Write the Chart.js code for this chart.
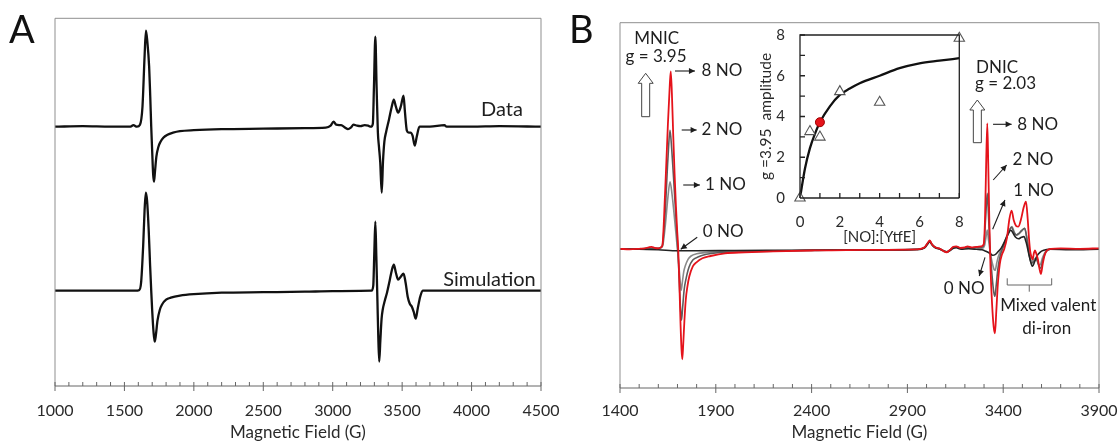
<!DOCTYPE html>
<html lang="en">
<head>
<meta charset="UTF-8" />
<title>EPR spectra</title>
<script src="https://cdn.jsdelivr.net/npm/chart.js@4.4.0/dist/chart.umd.min.js"></script>
<style>
  body { margin: 0; background: #fff; }
  .wrap { position: relative; width: 1119px; height: 441px; }
  canvas { position: absolute; }
</style>
</head>
<body>
<div class="wrap">
  <canvas id="chartA" width="560" height="441" style="left:0;top:0"></canvas>
  <canvas id="chartB" width="559" height="441" style="left:560px;top:0"></canvas>
  <canvas id="inset" width="239" height="241" style="left:740px;top:14px"></canvas>
</div>
<script>
// ---- panel A: [field (G), signal] ----
const aData = [[1000,0],[1200,0.5],[1400,0],[1540,0],[1565,1.5],[1590,0],[1612,2],[1630,20],[1645,70],[1655,96],[1665,85],[1678,60],[1686,30],[1693,0],[1700,-25],[1707,-48],[1713,-55],[1720,-45],[1730,-30],[1745,-20],[1760,-15],[1780,-11],[1810,-8],[1850,-6],[1900,-4.5],[2000,-3.5],[2200,-2.5],[2500,-2],[2800,-1.5],[2950,-1],[2985,1],[3006,5],[3025,2],[3060,1.5],[3090,-1],[3110,-2.5],[3130,-1],[3150,2],[3175,1],[3200,0.5],[3230,1.5],[3255,1],[3275,0],[3289,3],[3297,40],[3307,90],[3316,40],[3325,-5],[3333,-20],[3342,-35],[3353,-66],[3362,-35],[3372,-15],[3385,-5],[3405,7],[3425,20],[3440,27],[3455,20],[3471,14],[3490,20],[3510,31],[3520,15],[3534,-4],[3548,-6],[3560,-6],[3575,-9],[3591,-19],[3605,-10],[3625,0],[3700,0],[3805,1.5],[3820,0],[4000,0],[4200,0.5],[4500,0]];
const aSim = [[1000,0],[1580,0],[1605,0.5],[1620,8],[1635,45],[1645,80],[1654,98],[1663,90],[1675,60],[1685,25],[1693,0],[1700,-20],[1710,-42],[1718,-51],[1726,-45],[1738,-30],[1755,-19],[1770,-14],[1800,-9],[1834,-7],[1900,-5],[2000,-3.5],[2200,-2],[2500,-1.5],[2800,-1],[3000,-0.5],[3280,0],[3292,5],[3300,40],[3307,69],[3314,35],[3322,-10],[3328,-45],[3335,-71],[3343,-50],[3352,-28],[3360,-19],[3375,-10],[3391,-2],[3410,10],[3425,20],[3440,26],[3455,18],[3471,11],[3490,14],[3510,17],[3525,8],[3540,-6],[3555,-13],[3570,-16],[3583,-21],[3598,-28],[3612,-18],[3630,-6],[3648,0],[4500,0]];

// ---- panel B: [field (G), signal] for 8, 2, 1 and 0 NO ----
const b8NO = [[1400,0.5],[1450,0],[1500,0.5],[1530,1],[1550,2],[1565,2.5],[1580,1.5],[1600,1],[1615,2],[1622,5],[1635,55],[1650,125],[1660,165],[1665,178],[1671,155],[1678,113],[1685,75],[1692,43],[1698,20],[1704,0],[1710,-35],[1716,-75],[1721,-100],[1725,-110],[1730,-95],[1736,-72],[1743,-51],[1752,-37],[1762,-27],[1780,-17],[1799,-13],[1830,-9],[1873,-6.7],[1948,-4],[2050,-3],[2200,-2],[2400,-1.2],[2700,-0.5],[2950,0],[2990,2],[3005,6],[3017,9],[3028,5],[3045,2],[3070,0.5],[3090,-2],[3105,-3],[3120,-1],[3140,2.5],[3155,3],[3175,1.5],[3200,2],[3214,3],[3235,2],[3260,2.5],[3285,3],[3298,5],[3305,30],[3311,85],[3317,126],[3322,85],[3328,25],[3334,-20],[3342,-55],[3350,-77],[3357,-84],[3364,-62],[3372,-35],[3382,-15],[3394,-5],[3405,0],[3420,12],[3432,30],[3444,38.7],[3455,29],[3467,23.5],[3479,22.7],[3493,30],[3507,42],[3519,47.7],[3528,30],[3535,10],[3541,-2],[3548,-8],[3554,-10],[3560,-4],[3566,-1],[3572,-4],[3581,-10],[3590,-20],[3597,-24.7],[3606,-15],[3616,-6],[3627,-1.5],[3650,0.5],[3700,1],[3800,0.5],[3900,1]];
const b2NO = [[1400,0.5],[1500,0.5],[1550,1],[1600,1],[1620,3],[1635,35],[1650,90],[1661,119],[1670,100],[1680,70],[1690,38],[1698,12],[1704,-8],[1710,-35],[1716,-60],[1721,-71],[1727,-58],[1735,-40],[1743,-31],[1760,-18],[1780,-10.7],[1810,-7.5],[1836,-5.7],[1910,-3.5],[2050,-2.5],[2200,-1.8],[2400,-1.2],[2700,-0.5],[2950,0],[2990,2],[3005,6],[3017,8.5],[3028,5],[3045,2],[3070,0.5],[3090,-1.5],[3105,-2.5],[3120,-1],[3140,2],[3155,2.5],[3175,1],[3200,1.5],[3235,1.5],[3260,2],[3288,2],[3300,6],[3308,30],[3317,56],[3323,35],[3330,5],[3337,-15],[3345,-33],[3351,-43],[3357,-47],[3364,-35],[3372,-20],[3385,-6],[3400,2],[3415,10],[3430,18],[3444,22],[3456,17],[3468,14.3],[3482,16],[3497,19],[3512,21],[3524,10],[3536,-6],[3548,-14],[3560,-12],[3573,-10],[3585,-16],[3595,-19],[3608,-10],[3622,-3],[3645,0],[3700,0.5],[3800,0],[3900,0.5]];
const b1NO = [[1400,0.5],[1500,0.5],[1600,0.8],[1622,3],[1637,25],[1650,52],[1661,67.6],[1671,56],[1682,36],[1693,14],[1701,-3],[1708,-18],[1714,-32],[1719,-41],[1726,-32],[1733,-22],[1740,-17],[1755,-10],[1771,-6.7],[1800,-4.5],[1850,-3.2],[2000,-2.2],[2200,-1.5],[2500,-1],[2950,0],[2990,2],[3005,5.5],[3017,8],[3028,5],[3045,2],[3070,0.5],[3090,-1.5],[3105,-2.5],[3120,-1],[3140,2],[3155,2.5],[3175,1],[3200,1.5],[3235,1.5],[3260,1.5],[3290,1],[3303,4],[3310,12],[3317,19.3],[3323,10],[3330,0],[3338,-9],[3346,-16],[3352,-20],[3358,-21],[3366,-14],[3375,-7],[3390,0],[3405,6],[3420,14],[3434,20],[3446,22.7],[3458,17],[3470,14],[3485,16],[3500,19],[3512,21],[3525,10],[3538,-5],[3550,-12],[3560,-10],[3572,-9],[3583,-14],[3592,-15.7],[3606,-8],[3622,-2],[3645,0],[3700,0.5],[3800,0],[3900,0.5]];
const b0NO = [[1400,0],[1500,0],[1600,-0.5],[1700,-1.5],[1800,-1.5],[2000,-1.2],[2300,-1],[2600,-0.7],[2950,-0.3],[2990,1.5],[3005,5],[3017,7.5],[3028,4.5],[3045,1.5],[3070,0],[3090,-2],[3105,-3],[3120,-1.5],[3140,1],[3155,1.5],[3180,0],[3220,0.5],[3260,0],[3290,-0.5],[3310,-2],[3330,-4],[3345,-6],[3360,-5],[3375,-2],[3392,2],[3410,9],[3425,15],[3440,19],[3452,16],[3465,12],[3480,10.5],[3495,12],[3508,12.7],[3520,7],[3534,-5],[3544,-13],[3553,-17],[3563,-13],[3575,-7],[3592,-3],[3612,-1],[3640,0],[3750,-0.5],[3900,0]];

// ---- inset: g = 3.95 amplitude vs [NO]:[YtfE] ----
const insetRatio = [0, 0.5, 1, 2, 4, 8];
const insetAmp = [0, 3.26, 2.99, 5.22, 4.70, 7.84];
const redRatio = [1];
const redAmp = [3.72];
const fitRatio = [0, 0.25, 0.5, 0.75, 1, 1.5, 2, 2.5, 3, 4, 5, 6, 7, 8];
const fitAmp = [0, 1.45, 2.45, 3.15, 3.72, 4.5, 5.06, 5.37, 5.63, 6.0, 6.37, 6.61, 6.74, 6.86];

const FONT = 'Lato';
const TXT = '#1e1e1e';
const DATA_OFFSET = 259.3;  // vertical stacking of the two A traces
const SIM_OFFSET = 95.3;

const toXY = (arr, off = 0) => arr.map(p => ({ x: p[0], y: p[1] + off }));
const zip = (xs, ys) => xs.map((v, i) => ({ x: v, y: ys[i] }));

// frame round the plot area + inward tick marks
const boxTicks = {
  id: 'boxTicks',
  afterDraw(chart, args, o) {
    const { ctx, chartArea: a, scales } = chart;
    ctx.save();
    ctx.lineWidth = o.width;
    ctx.strokeStyle = o.frame;
    ctx.beginPath();
    ctx.moveTo(a.left, a.bottom); ctx.lineTo(a.left, a.top);
    ctx.lineTo(a.right, a.top); ctx.lineTo(a.right, a.bottom);
    ctx.stroke();
    ctx.strokeStyle = o.axis;
    ctx.beginPath();
    ctx.moveTo(a.left, a.bottom); ctx.lineTo(a.right, a.bottom);
    const sx = scales.x;
    sx.ticks.forEach(t => {
      const p = sx.getPixelForValue(t.value);
      const major = Math.abs((t.value - sx.min) % o.xMajor) < 1e-6;
      ctx.moveTo(p, a.bottom - o.tickIn);
      ctx.lineTo(p, a.bottom + (major ? o.tickOut : 0));
    });
    if (o.yTicks) {
      const sy = scales.y;
      sy.ticks.forEach(t => {
        const p = sy.getPixelForValue(t.value);
        ctx.moveTo(a.left, p); ctx.lineTo(a.left + o.tickIn, p);
      });
    }
    ctx.stroke();
    ctx.restore();
  }
};

function arrowHead(ctx, x1, y1, x2, y2) {
  const ang = Math.atan2(y2 - y1, x2 - x1), L = 6, W = 3;
  ctx.beginPath();
  ctx.moveTo(x2, y2);
  ctx.lineTo(x2 - L * Math.cos(ang) + W * Math.sin(ang), y2 - L * Math.sin(ang) - W * Math.cos(ang));
  ctx.lineTo(x2 - L * Math.cos(ang) - W * Math.sin(ang), y2 - L * Math.sin(ang) + W * Math.cos(ang));
  ctx.closePath();
  ctx.fill();
}

// tick labels are pushed away from the axis with an invisible tick length,
// so the label padding does not widen the plot margins
const hiddenGrid = len => ({ display: false, drawTicks: true, tickLength: len });

// ---------------- panel A ----------------
const notesA = {
  id: 'notesA',
  afterDraw(chart) {
    const { ctx, scales: { x, y } } = chart;
    ctx.save();
    ctx.fillStyle = '#111';
    ctx.font = '38px ' + FONT;
    ctx.textBaseline = 'alphabetic';
    ctx.fillText('A', 9, 43);
    ctx.fillStyle = TXT;
    ctx.font = '20px ' + FONT;
    ctx.textAlign = 'right';
    ctx.textBaseline = 'middle';
    ctx.fillText('Data', x.getPixelForValue(4370), y.getPixelForValue(276));
    ctx.fillText('Simulation', x.getPixelForValue(4462), y.getPixelForValue(106.7));
    ctx.restore();
  }
};

new Chart(document.getElementById('chartA'), {
  type: 'line',
  data: {
    datasets: [
      { data: toXY(aData, DATA_OFFSET), borderColor: '#111', borderWidth: 2.3 },
      { data: toXY(aSim, SIM_OFFSET), borderColor: '#111', borderWidth: 2.3 }
    ]
  },
  options: {
    responsive: false,
    animation: false,
    events: [],
    layout: { padding: { left: 55, right: 19, top: 18.3, bottom: 0 } },
    elements: { point: { radius: 0 }, line: { cubicInterpolationMode: 'monotone', fill: false } },
    plugins: {
      legend: { display: false },
      tooltip: { enabled: false },
      boxTicks: { width: 1, frame: '#8f8f8f', axis: '#666', xMajor: 500, tickIn: 4, tickOut: 5 }
    },
    scales: {
      x: {
        type: 'linear', min: 1000, max: 4500,
        grid: hiddenGrid(15),
        border: { display: false },
        afterFit: s => { s.height = 55; },
        ticks: {
          stepSize: 100, autoSkip: false, maxRotation: 0, minRotation: 0, padding: 0,
          color: '#2a2a2a', font: { family: FONT, size: 16 },
          callback: v => (v % 500 === 0 ? v : '')
        },
        title: { display: true, text: 'Magnetic Field (G)', color: '#2a2a2a', font: { family: FONT, size: 17 }, padding: { top: 0, bottom: -2 } }
      },
      y: { display: false, min: 0, max: 367.7 }
    }
  },
  plugins: [boxTicks, notesA]
});

// ---------------- panel B ----------------
// [text, field, signal, align]
const labelsB = [
  ['MNIC', 1591.5, 210.3, 'center'],
  ['g = 3.95', 1588, 192.6, 'center'],
  ['8 NO', 1826, 178.3, 'left'],
  ['2 NO', 1826, 119.3, 'left'],
  ['1 NO', 1843.6, 64.3, 'left'],
  ['0 NO', 1832, 17.6, 'left'],
  ['DNIC', 3258, 181.3, 'left'],
  ['g = 2.03', 3253, 166, 'left'],
  ['8 NO', 3473, 125, 'left'],
  ['2 NO', 3449, 89.3, 'left'],
  ['1 NO', 3452, 58.6, 'left'],
  ['0 NO', 3303, -39, 'right'],
  ['Mixed valent', 3635, -56.7, 'center'],
  ['di-iron', 3627, -79, 'center']
];
// [field1, signal1, field2, signal2] head at the second end
const pointersB = [
  [1687, 178.3, 1791, 178.3],
  [1722, 119.3, 1800, 119.3],
  [1730, 64.3, 1817, 64.3],
  [1803, 12, 1717, 0],
  [3347, 125, 3444, 125],
  [3348, 69.3, 3418, 84.3],
  [3345, 20, 3409, 49.3],
  [3305, -8, 3275, -26.7]
];
// [field, tip signal, base signal]
const openArrowsB = [[1534, 176, 132.6], [3265, 149.3, 106.6]];

const notesB = {
  id: 'notesB',
  afterDraw(chart) {
    const { ctx, scales: { x, y } } = chart;
    const px = f => x.getPixelForValue(f), py = v => y.getPixelForValue(v);
    ctx.save();
    ctx.fillStyle = '#111';
    ctx.font = '38px ' + FONT;
    ctx.fillText('B', 9, 43);

    ctx.fillStyle = TXT;
    ctx.strokeStyle = TXT;
    ctx.font = '17px ' + FONT;
    ctx.textBaseline = 'middle';
    labelsB.forEach(([t, f, v, al]) => { ctx.textAlign = al; ctx.fillText(t, px(f), py(v)); });

    ctx.lineWidth = 1.1;
    pointersB.forEach(([f1, v1, f2, v2]) => {
      const x1 = px(f1), y1 = py(v1), x2 = px(f2), y2 = py(v2);
      ctx.beginPath(); ctx.moveTo(x1, y1); ctx.lineTo(x2, y2); ctx.stroke();
      arrowHead(ctx, x1, y1, x2, y2);
    });

    // hollow block arrows
    ctx.strokeStyle = '#444';
    ctx.lineWidth = 1;
    openArrowsB.forEach(([f, tip, base]) => {
      const cx = px(f), ty = py(tip), by = py(base), hw = 7.5, sw = 4, hh = 10;
      ctx.beginPath();
      ctx.moveTo(cx, ty);
      ctx.lineTo(cx + hw, ty + hh); ctx.lineTo(cx + sw, ty + hh); ctx.lineTo(cx + sw, by);
      ctx.lineTo(cx - sw, by); ctx.lineTo(cx - sw, ty + hh); ctx.lineTo(cx - hw, ty + hh);
      ctx.closePath();
      ctx.fillStyle = '#fff';
      ctx.fill();
      ctx.stroke();
    });

    // bracket under the mixed valent features
    ctx.strokeStyle = '#666';
    ctx.beginPath();
    ctx.moveTo(px(3421), py(-29)); ctx.lineTo(px(3421), py(-35.7));
    ctx.lineTo(px(3653), py(-35.7)); ctx.lineTo(px(3653), py(-29));
    ctx.moveTo(px(3536), py(-35.7)); ctx.lineTo(px(3536), py(-42.4));
    ctx.stroke();
    ctx.restore();
  }
};

new Chart(document.getElementById('chartB'), {
  type: 'line',
  data: {
    datasets: [
      { label: '8 NO', data: toXY(b8NO), borderColor: '#e5131b', borderWidth: 1.8 },
      { label: '0 NO', data: toXY(b0NO), borderColor: '#222', borderWidth: 1.6 },
      { label: '2 NO', data: toXY(b2NO), borderColor: '#5c5c5c', borderWidth: 1.6 },
      { label: '1 NO', data: toXY(b1NO), borderColor: '#8a8a8a', borderWidth: 1.6 }
    ]
  },
  options: {
    responsive: false,
    animation: false,
    events: [],
    layout: { padding: { left: 60, right: 20, top: 22.7, bottom: 0 } },
    elements: { point: { radius: 0 }, line: { cubicInterpolationMode: 'monotone', fill: false } },
    plugins: {
      legend: { display: false },
      tooltip: { enabled: false },
      boxTicks: { width: 1, frame: '#8f8f8f', axis: '#666', xMajor: 500, tickIn: 4, tickOut: 5 }
    },
    scales: {
      x: {
        type: 'linear', min: 1400, max: 3900,
        grid: hiddenGrid(13),
        border: { display: false },
        afterFit: s => { s.height = 53; },
        ticks: {
          stepSize: 100, autoSkip: false, maxRotation: 0, minRotation: 0, padding: 0,
          color: '#2a2a2a', font: { family: FONT, size: 16 },
          callback: v => ((v - 1400) % 500 === 0 ? v : '')
        },
        title: { display: true, text: 'Magnetic Field (G)', color: '#2a2a2a', font: { family: FONT, size: 17 }, padding: { top: 0, bottom: -2 } }
      },
      y: { display: false, min: -138.7, max: 226.6 }
    }
  },
  plugins: [boxTicks, notesB]
});

// ---------------- inset ----------------
new Chart(document.getElementById('inset'), {
  type: 'scatter',
  data: {
    datasets: [
      { data: zip(redRatio, redAmp), pointStyle: 'circle', pointRadius: 4.5, backgroundColor: '#e5131b', borderColor: '#9a0000', borderWidth: 1, clip: false },
      { data: zip(insetRatio, insetAmp), pointStyle: 'triangle', pointRadius: 6, backgroundColor: '#fff', borderColor: '#555', borderWidth: 1.1, clip: false },
      { type: 'line', data: zip(fitRatio, fitAmp), borderColor: '#111', borderWidth: 2.3, pointRadius: 0, cubicInterpolationMode: 'monotone', fill: false }
    ]
  },
  options: {
    responsive: false,
    animation: false,
    events: [],
    layout: { padding: { left: 0, right: 19.7, top: 21, bottom: 0 } },
    plugins: {
      legend: { display: false },
      tooltip: { enabled: false },
      boxTicks: { width: 1.3, frame: '#222', axis: '#222', xMajor: 2, tickIn: 5, tickOut: 0, yTicks: true }
    },
    scales: {
      x: {
        type: 'linear', min: 0, max: 8,
        grid: hiddenGrid(15),
        border: { display: false },
        afterFit: s => { s.height = 57; },
        ticks: {
          stepSize: 1, autoSkip: false, maxRotation: 0, minRotation: 0, padding: 0,
          color: '#2a2a2a', font: { family: FONT, size: 15 },
          callback: v => (v % 2 === 0 ? v : '')
        },
        title: { display: true, text: '[NO]:[YtfE]', color: '#2a2a2a', font: { family: FONT, size: 15 }, padding: { top: 0, bottom: 8.6 } }
      },
      y: {
        type: 'linear', min: 0, max: 8,
        grid: hiddenGrid(15),
        border: { display: false },
        afterFit: s => { s.width = 60; },
        ticks: {
          stepSize: 1, autoSkip: false, padding: 0,
          color: '#2a2a2a', font: { family: FONT, size: 15 },
          callback: v => (v % 2 === 0 ? v : '')
        },
        title: { display: true, text: 'g =3.95  amplitude', color: '#2a2a2a', font: { family: FONT, size: 15.5 }, padding: { top: 17, bottom: 0 } }
      }
    }
  },
  plugins: [boxTicks]
});
</script>
</body>
</html>
